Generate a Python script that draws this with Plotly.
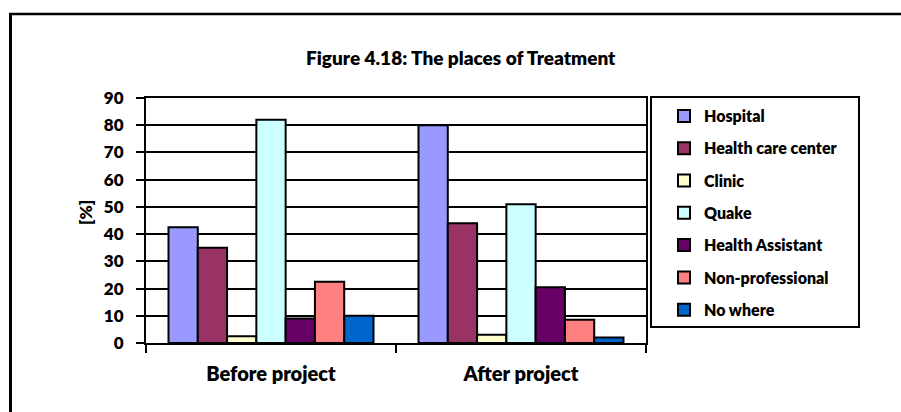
import plotly.graph_objects as go

# Places of treatment before and after the project, in percent
periods = ["Before project", "After project"]
places = ["Hospital", "Health care center", "Clinic", "Quake",
          "Health Assistant", "Non-professional", "No where"]
hospital = [42.5, 80]
health_care_center = [35, 44]
clinic = [2.5, 3]
quake = [82, 51]
health_assistant = [9, 20.5]
non_professional = [22.5, 8.5]
no_where = [10, 2]
series = [hospital, health_care_center, clinic, quake,
          health_assistant, non_professional, no_where]
colors = ["#9999FF", "#993366", "#FFFFCC", "#CCFFFF",
          "#660066", "#FF8080", "#0066CC"]
y_ticks = list(range(0, 91, 10))

FONT = "Lato"
W, H = 901, 412
L, R, T, B = 146, 255, 98, 69
PW, PH = W - L - R, H - T - B


def px_x(x):
    return (x - L) / PW


def px_y(y):
    return (H - B - y) / PH


fig = go.Figure()
for i, (name, vals, col) in enumerate(zip(places, series, colors)):
    fig.add_trace(go.Bar(
        x=periods, y=vals, name=name, legendgroup=f"g{i}",
        marker=dict(color=col, line=dict(color="black", width=2)),
    ))

fig.update_layout(
    width=W, height=H,
    margin=dict(l=L, r=R, t=T, b=B),
    paper_bgcolor="white", plot_bgcolor="white",
    barmode="group", bargap=0.18, bargroupgap=0,
    font=dict(family=FONT, color="black"),
    showlegend=True,
    legend=dict(
        x=px_x(664), xanchor="left", y=px_y(99), yanchor="top",
        font=dict(family=FONT, size=16, weight=800, color="black"),
        tracegroupgap=8.5, bgcolor="rgba(0,0,0,0)", borderwidth=0,
    ),
    xaxis=dict(
        showgrid=False, showline=True, linecolor="black", linewidth=2,
        mirror=True, ticks="outside", tickson="boundaries", ticklen=8,
        tickwidth=2, tickcolor="black", ticklabelstandoff=12,
        tickfont=dict(family=FONT, size=20, weight=800, color="black"),
    ),
    yaxis=dict(
        range=[0, 90], tickvals=y_ticks, showgrid=True, gridcolor="black",
        gridwidth=2, showline=True, linecolor="black", linewidth=2,
        mirror=True, ticks="outside", ticklen=8, tickwidth=2,
        tickcolor="black", ticklabelstandoff=9, zeroline=False,
        tickfont=dict(family=FONT, size=17, weight=800, color="black"),
    ),
    annotations=[
        dict(text="Figure 4.18: The places of Treatment", xref="paper",
             yref="paper", x=px_x(461), y=px_y(57), xanchor="center",
             yanchor="middle", showarrow=False,
             font=dict(family=FONT, size=19, weight=800, color="black")),
        dict(text="[%]", xref="paper", yref="paper", x=px_x(85),
             y=px_y(213), xanchor="center", yanchor="middle",
             textangle=-90, showarrow=False,
             font=dict(family=FONT, size=17, weight=800, color="black")),
    ],
    shapes=[
        # legend frame
        dict(type="rect", xref="paper", yref="paper", x0=px_x(651),
             x1=px_x(859), y0=px_y(327), y1=px_y(97),
             line=dict(color="black", width=2)),
        # chart-area frame (left and top edges)
        dict(type="line", xref="paper", yref="paper", x0=px_x(10.5),
             x1=px_x(10.5), y0=px_y(13), y1=px_y(420),
             line=dict(color="black", width=3)),
        dict(type="line", xref="paper", yref="paper", x0=px_x(9),
             x1=px_x(910), y0=px_y(14), y1=px_y(14),
             line=dict(color="black", width=2.5)),
    ],
)

fig.write_html("out.html")
